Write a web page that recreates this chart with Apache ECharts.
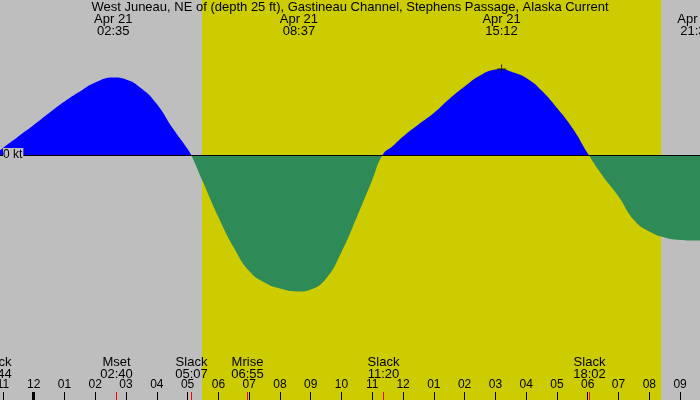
<!DOCTYPE html>
<html>
<head>
<meta charset="utf-8">
<style>
  html, body { margin: 0; padding: 0; background: #bebebe; }
  #chart { width: 700px; height: 400px; }
</style>
<script src="https://cdn.jsdelivr.net/npm/echarts@6/dist/echarts.min.js"></script>
</head>
<body>
<div id="chart"></div>
<script>
// current speed, hours from midnight Apr 21 (negative = Apr 20), knots (+ flood, - ebb)
const hours = [-1.267, -1, -0.5, 0, 0.5, 1, 1.5, 2, 2.583, 3, 3.5, 4, 4.5, 5, 5.117,
  5.5, 6, 6.5, 7, 7.5, 8, 8.617, 9, 9.5, 10, 10.5, 11, 11.333,
  11.667, 12, 12.5, 13, 13.5, 14, 14.5, 15, 15.2, 15.5, 16, 16.5, 17, 17.5, 18.033,
  18.5, 19, 19.5, 20, 20.5, 21, 21.533, 21.7];
const speeds = [0, 0.14, 0.37, 0.60, 0.84, 1.07, 1.27, 1.45, 1.55, 1.51, 1.33, 1.02, 0.55, 0.12, 0,
  -0.54, -1.24, -1.85, -2.32, -2.55, -2.67, -2.73, -2.69, -2.47, -1.94, -1.24, -0.50, 0,
  0.18, 0.37, 0.61, 0.84, 1.12, 1.37, 1.59, 1.71, 1.72, 1.67, 1.54, 1.29, 0.94, 0.54, 0,
  -0.43, -0.83, -1.30, -1.53, -1.65, -1.70, -1.71, -1.71];

// hour ticks along the bottom, midnight tick drawn heavier
const hourTicks = [-1, 0, 1, 2, 3, 4, 5, 6, 7, 8, 9, 10, 11, 12, 13, 14, 15, 16, 17, 18, 19, 20, 21];
const dayStarts = [0];

// max flood / max ebb labels along the top
const peakDates = ['Apr 21', 'Apr 21', 'Apr 21', 'Apr 21'];
const peakClocks = ['02:35', '08:37', '15:12', '21:32'];

// slack water and moon events along the bottom
const eventNames = ['Slack', 'Mset', 'Slack', 'Mrise', 'Slack', 'Slack'];
const eventDates = ['Apr 20', 'Apr 21', 'Apr 21', 'Apr 21', 'Apr 21', 'Apr 21'];
const eventClocks = ['22:44', '02:40', '05:07', '06:55', '11:20', '18:02'];

const sunrise = '05:28';
const sunset = '20:23';
const markerClock = '15:12';
const markerSpeed = 1.72;

const X_MIN = -1.095, X_MAX = 21.647;
const Y_MIN = -4.9, Y_MAX = 3.1;
const FONT = '"Liberation Sans", Arial, sans-serif';

function toHours(date, clock) {
  const [h, m] = clock.split(':').map(Number);
  return (date === 'Apr 20' ? -24 : 0) + h + m / 60;
}
const pad = n => (n < 10 ? '0' : '') + n;

const chart = echarts.init(document.getElementById('chart'));

const hourAxis = {
  type: 'value', min: X_MIN, max: X_MAX, position: 'bottom', z: 10,
  axisLine: { show: false, onZero: false },
  splitLine: { show: false }
};

const option = {
  animation: false,
  backgroundColor: '#bebebe',
  title: {
    text: 'West Juneau, NE of (depth 25 ft), Gastineau Channel, Stephens Passage, Alaska Current',
    left: 'center', top: 1, padding: 0,
    textStyle: { fontFamily: FONT, fontSize: 13, fontWeight: 'normal', color: '#000' }
  },
  grid: { left: 0, right: 0, top: 0, bottom: 0, outerBoundsMode: 'none', containLabel: false },
  xAxis: [
    Object.assign({}, hourAxis, {
      axisTick: { inside: true, length: 8, customValues: hourTicks, lineStyle: { color: '#000', width: 1 } },
      axisLabel: {
        inside: true, margin: 9, customValues: hourTicks,
        fontFamily: FONT, fontSize: 12, color: '#000',
        formatter: v => { const h = ((Math.round(v) % 12) + 12) % 12; return pad(h === 0 ? 12 : h); }
      }
    }),
    Object.assign({}, hourAxis, {
      axisTick: { inside: true, length: 8, customValues: dayStarts, lineStyle: { color: '#000', width: 3 } },
      axisLabel: { show: false }
    })
  ],
  yAxis: {
    type: 'value', min: Y_MIN, max: Y_MAX, z: 10,
    axisLine: { show: false }, axisTick: { show: false }, splitLine: { show: false },
    axisLabel: {
      inside: true, margin: 3, customValues: [0],
      fontFamily: FONT, fontSize: 12, color: '#000',
      backgroundColor: '#bebebe', padding: [2, 1, 0, 0],
      formatter: v => v + ' kt'
    }
  },
  visualMap: {
    show: false, type: 'piecewise', seriesIndex: 1, dimension: 1,
    pieces: [
      { gt: -10, lte: 0, color: '#2e8b57' },
      { gt: 0, lte: 10, color: '#0000ff' }
    ]
  },
  series: [
    {
      // daylight band
      type: 'line', data: [], z: 1, silent: true,
      markArea: {
        silent: true,
        itemStyle: { color: '#cccc00', opacity: 1 },
        data: [[{ xAxis: toHours('Apr 21', sunrise) }, { xAxis: toHours('Apr 21', sunset) }]]
      }
    },
    {
      type: 'line', z: 2, smooth: 0.5, showSymbol: false, silent: true,
      data: hours.map((h, i) => [h, speeds[i]]),
      lineStyle: { width: 0 },
      areaStyle: { opacity: 1 },
      markLine: {
        silent: true, symbol: 'none', label: { show: false },
        lineStyle: { color: '#000', width: 1, type: 'solid' },
        data: [{ yAxis: 0 }]
      }
    },
    {
      type: 'scatter', z: 3, silent: true,
      symbol: 'path://M4,0h1v4h4v1h-4v4h-1v-4h-4v-1h4z', symbolSize: 9,
      itemStyle: { color: '#000' },
      data: [[toHours('Apr 21', markerClock), markerSpeed]]
    },
    {
      // peak labels along the top
      type: 'custom', z: 4, silent: true, clip: false,
      data: peakClocks.map((c, i) => [toHours(peakDates[i], c)]),
      encode: { x: 0 },
      renderItem: (params, api) => {
        const x = api.coord([api.value(0), 0])[0];
        const i = params.dataIndex;
        return {
          type: 'text', x: x, y: 13,
          style: {
            text: peakDates[i] + '\n' + peakClocks[i],
            align: 'center', verticalAlign: 'top', lineHeight: 12,
            font: '13px ' + FONT, fill: '#000'
          }
        };
      }
    },
    {
      // slack / moon events along the bottom
      type: 'custom', z: 4, silent: true, clip: false,
      data: eventClocks.map((c, i) => [toHours(eventDates[i], c)]),
      encode: { x: 0 },
      renderItem: (params, api) => {
        const x = Math.round(api.coord([api.value(0), 0])[0]) + 0.5;
        const h = api.getHeight();
        const i = params.dataIndex;
        return {
          type: 'group',
          children: [
            { type: 'line', shape: { x1: x, y1: h - 8, x2: x, y2: h }, style: { stroke: '#ff0000', lineWidth: 1 } },
            {
              type: 'text', x: x, y: h - 20,
              style: {
                text: eventNames[i] + '\n' + eventClocks[i],
                align: 'center', verticalAlign: 'bottom', lineHeight: 12,
                font: '13px ' + FONT, fill: '#000'
              }
            }
          ]
        };
      }
    }
  ]
};

chart.setOption(option);
</script>
</body>
</html>
